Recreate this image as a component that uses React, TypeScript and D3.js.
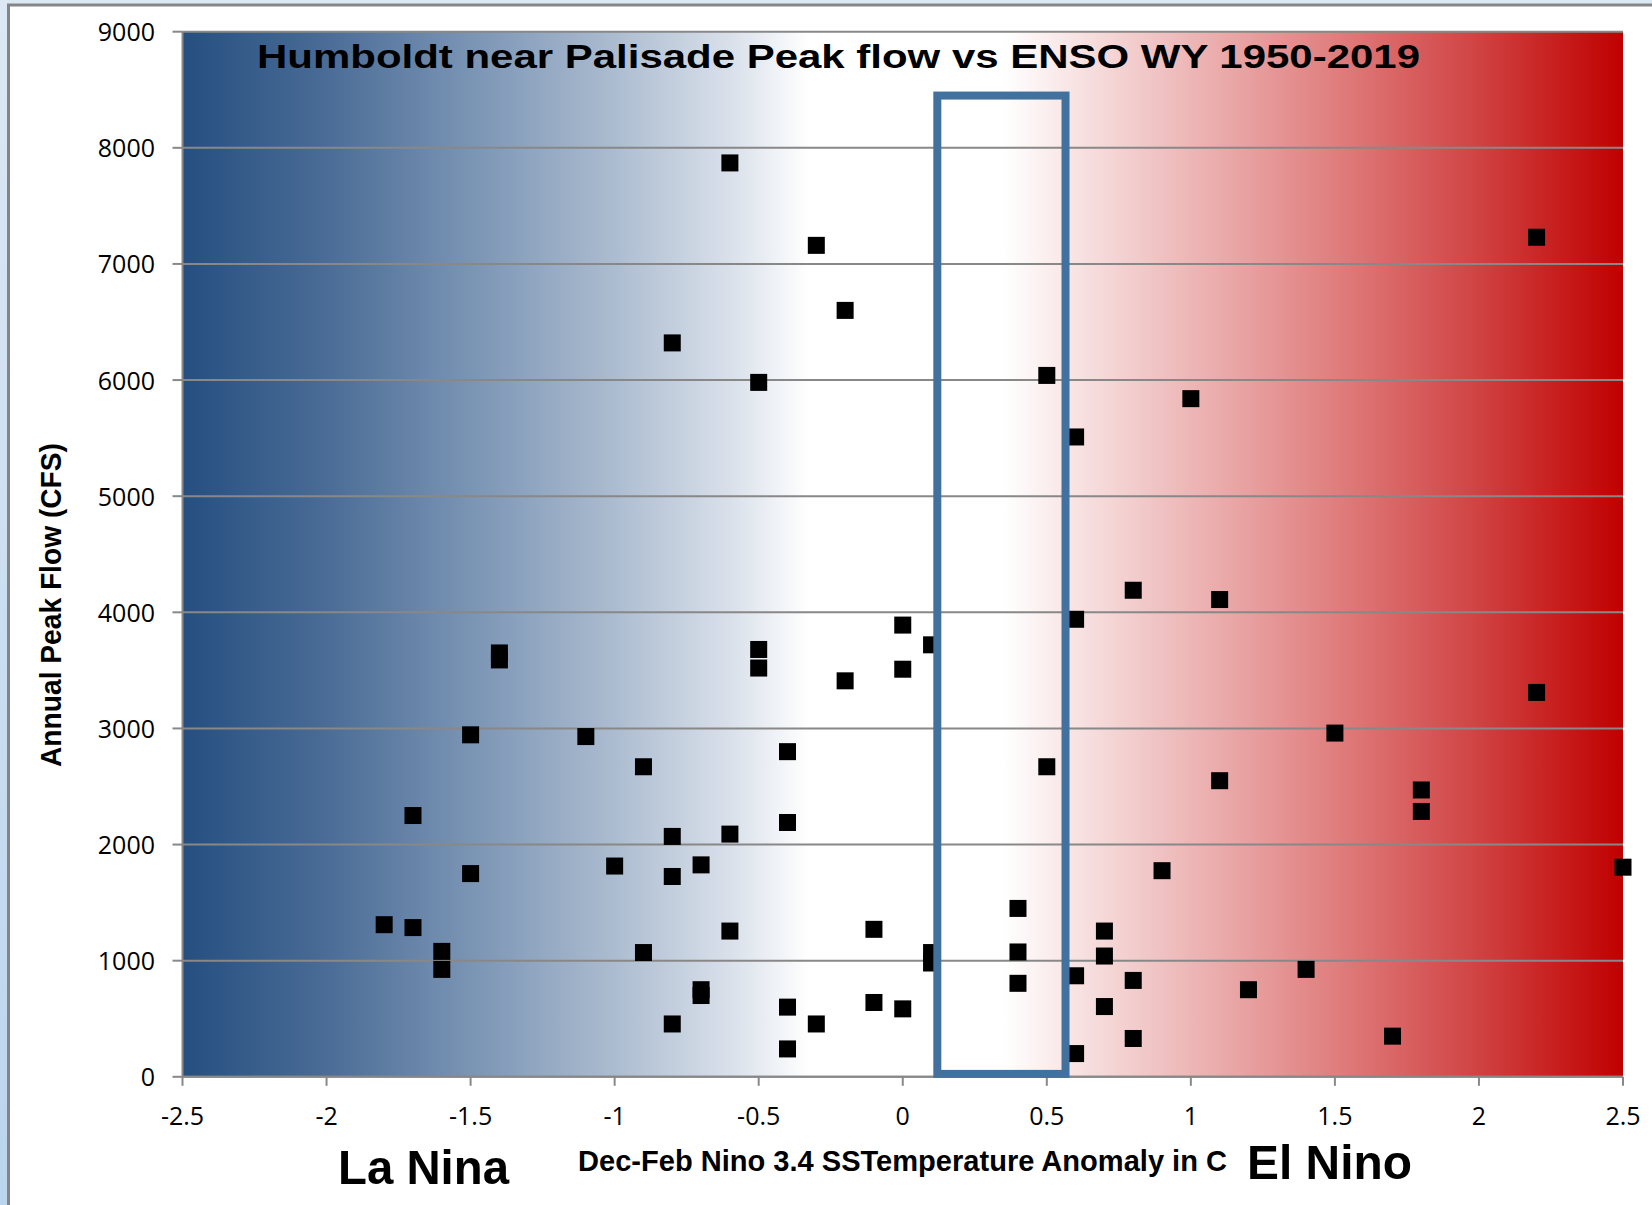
import React from 'react';
import * as d3 from 'd3';

const W = 1652;
const H = 1205;

// Tick values
const xTickValues = [-2.5, -2, -1.5, -1, -0.5, 0, 0.5, 1, 1.5, 2, 2.5];
const yTickValues = [0, 1000, 2000, 3000, 4000, 5000, 6000, 7000, 8000, 9000];

// Data: Dec-Feb Nino 3.4 anomaly (C) vs annual peak flow (CFS), WY 1950-2019
const ensoAnomaly = [
  -1.8, -1.7, -1.7, -1.6, -1.6, -1.5, -1.5, -1.4, -1.4, -1.1,
  -1.0, -0.9, -0.9, -0.8, -0.8, -0.8, -0.8, -0.7, -0.7, -0.7,
  -0.6, -0.6, -0.6, -0.5, -0.5, -0.5, -0.4, -0.4, -0.4, -0.4,
  -0.3, -0.3, -0.2, -0.2, -0.1, -0.1, 0.0, 0.0, 0.0, 0.1,
  0.1, 0.1, 0.4, 0.4, 0.4, 0.5, 0.5, 0.6, 0.6, 0.6,
  0.6, 0.7, 0.7, 0.7, 0.8, 0.8, 0.8, 0.9, 1.0, 1.1,
  1.1, 1.2, 1.4, 1.5, 1.7, 1.8, 1.8, 2.2, 2.2, 2.5,
];
const peakFlow = [
  1310, 2250, 1285, 1080, 925, 2945, 1750, 3650, 3590, 2930,
  1815, 2670, 1070, 6320, 2070, 1725, 455, 1825, 750, 700,
  7870, 2090, 1255, 5980, 3680, 3520, 2800, 2190, 600, 240,
  7160, 455, 6600, 3410, 1270, 640, 3890, 3510, 585, 3720,
  1070, 980, 1450, 1075, 805, 6040, 2670, 5510, 3940, 870,
  200, 1255, 1040, 605, 4190, 830, 330, 1775, 5840, 4110,
  2550, 750, 925, 2960, 350, 2470, 2285, 7230, 3310, 1805,
];

// Highlight box (data units)
const boxAnomaly = [0.12, 0.565];
const boxFlow = [25, 8450];

// Texts
const chartTitle = 'Humboldt near Palisade Peak flow vs ENSO WY 1950-2019';
const xAxisTitle = 'Dec-Feb Nino 3.4 SSTemperature Anomaly in C';
const yAxisTitle = 'Annual Peak Flow (CFS)';
const leftLabel = 'La Nina';
const rightLabel = 'El Nino';

const boldFont = "'Liberation Sans', Arial, sans-serif";
const tickFont = "'Open Sans', 'Liberation Sans', sans-serif";

export default function App() {
  const x = d3.scaleLinear().domain([-2.5, 2.5]).range([182.5, 1623]);
  const y = d3.scaleLinear().domain([0, 9000]).range([1076.8, 31.7]);
  const [x0, x1] = x.range();
  const [yb, yt] = y.range();
  const ms = 17;
  const gridColor = '#888888';

  const gradStops: [number, string][] = [
    [0, '#254F80'],
    [0.1, '#4A6C96'],
    [0.2, '#7A94B4'],
    [0.3, '#ACBCD0'],
    [0.38, '#D9E0EA'],
    [0.435, '#FFFFFF'],
    [0.57, '#FFFFFF'],
    [0.7, '#EDB6B6'],
    [0.8, '#E07E7E'],
    [0.9, '#D04242'],
    [1, '#C00000'],
  ];

  return (
    <svg
      width={W}
      height={H}
      viewBox={`0 0 ${W} ${H}`}
      style={{ position: 'absolute', left: 0, top: 0, display: 'block' }}
    >
      <defs>
        <linearGradient id="plotBg" x1="0" x2="1" y1="0" y2="0">
          {gradStops.map(([o, c], i) => (
            <stop key={i} offset={o} stopColor={c} />
          ))}
        </linearGradient>
        <linearGradient id="frameBg" x1="0" x2="0" y1="0" y2="1">
          <stop offset="0" stopColor="#DCE8F4" />
          <stop offset="1" stopColor="#BBD5EE" />
        </linearGradient>
      </defs>

      {/* outer frame */}
      <rect x={0} y={0} width={W} height={H} fill="url(#frameBg)" />
      <rect x={8.5} y={5} width={W + 50} height={H + 50} fill="#FFFFFF" stroke="#858585" strokeWidth={3} />

      {/* plot background gradient */}
      <rect x={x0} y={yt} width={x1 - x0} height={yb - yt} fill="url(#plotBg)" />

      {/* gridlines */}
      {yTickValues.map((v) => (
        <line key={'g' + v} x1={x0} x2={x1} y1={y(v)} y2={y(v)} stroke={gridColor} strokeWidth={2} />
      ))}

      {/* axes lines */}
      <line x1={x0} x2={x0} y1={yt} y2={yb} stroke={gridColor} strokeWidth={2} />
      <line x1={x0} x2={x1} y1={yb} y2={yb} stroke={gridColor} strokeWidth={2} />

      {/* y ticks */}
      {yTickValues.map((v) => (
        <g key={'yt' + v}>
          <line x1={x0 - 10} x2={x0} y1={y(v)} y2={y(v)} stroke={gridColor} strokeWidth={2} />
          <text x={155} y={y(v) + 9.5} textAnchor="end" fontFamily={tickFont} fontSize={25} fill="#000">
            {v}
          </text>
        </g>
      ))}

      {/* x ticks */}
      {xTickValues.map((v) => (
        <g key={'xt' + v}>
          <line x1={x(v)} x2={x(v)} y1={yb} y2={yb + 9} stroke={gridColor} strokeWidth={2} />
          <text x={x(v)} y={1125} textAnchor="middle" fontFamily={tickFont} fontSize={25} fill="#000">
            {v}
          </text>
        </g>
      ))}

      {/* chart title */}
      <text
        x={257}
        y={68}
        fontFamily={boldFont}
        fontWeight="bold"
        fontSize={34}
        textLength={1163}
        lengthAdjust="spacingAndGlyphs"
        fill="#000"
      >
        {chartTitle}
      </text>

      {/* markers */}
      {ensoAnomaly.map((a, i) => (
        <rect
          key={'m' + i}
          x={x(a) - ms / 2}
          y={y(peakFlow[i]) - ms / 2}
          width={ms}
          height={ms}
          fill="#000"
        />
      ))}

      {/* highlight box */}
      <rect
        x={x(boxAnomaly[0])}
        y={y(boxFlow[1])}
        width={x(boxAnomaly[1]) - x(boxAnomaly[0])}
        height={y(boxFlow[0]) - y(boxFlow[1])}
        fill="none"
        stroke="#41719C"
        strokeWidth={8}
      />

      {/* axis titles */}
      <text
        x={578}
        y={1171}
        fontFamily={boldFont}
        fontWeight="bold"
        fontSize={30}
        textLength={649}
        lengthAdjust="spacingAndGlyphs"
        fill="#000"
      >
        {xAxisTitle}
      </text>
      <text
        transform="translate(61,605) rotate(-90)"
        x={0}
        y={0}
        textAnchor="middle"
        fontFamily={boldFont}
        fontWeight="bold"
        fontSize={29}
        textLength={324}
        lengthAdjust="spacingAndGlyphs"
        fill="#000"
      >
        {yAxisTitle}
      </text>

      {/* La Nina / El Nino */}
      <text
        x={338}
        y={1184}
        fontFamily={boldFont}
        fontWeight="bold"
        fontSize={49}
        textLength={171}
        lengthAdjust="spacingAndGlyphs"
        fill="#000"
      >
        {leftLabel}
      </text>
      <text
        x={1247}
        y={1179}
        fontFamily={boldFont}
        fontWeight="bold"
        fontSize={49}
        textLength={165}
        lengthAdjust="spacingAndGlyphs"
        fill="#000"
      >
        {rightLabel}
      </text>
    </svg>
  );
}
